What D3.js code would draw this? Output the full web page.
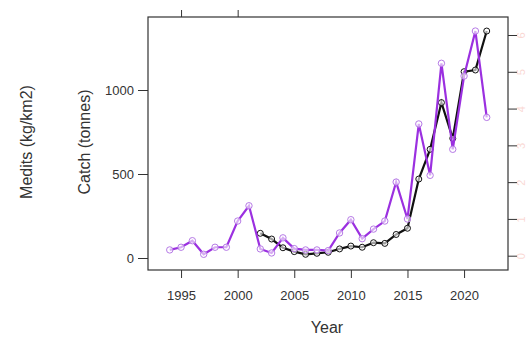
<!DOCTYPE html>
<html><head><meta charset="utf-8">
<script src="https://cdn.jsdelivr.net/npm/d3@7"></script>
<style>html,body{margin:0;padding:0;background:#fff;overflow:hidden}</style>
</head><body><svg id="c" width="527" height="340"></svg>
<script>
const medYears = [1994,1995,1996,1997,1998,1999,2000,2001,2002,2003,2004,2005,2006,2007,2008,2009,2010,2011,2012,2013,2014,2015,2016,2017,2018,2019,2020,2021,2022];
const meditsValues = [48,64,103,22,64,64,220,311,54,30,120,56,48,48,44,149,228,115,172,220,452,232,798,492,1159,647,1083,1351,837];
const catchYears = [2002,2003,2004,2005,2006,2007,2008,2009,2010,2011,2012,2013,2014,2015,2016,2017,2018,2019,2020,2021,2022];
const catchValues = [147,113,61,38,22,28,34,54,71,64,91,87,140,177,470,647,925,712,1109,1119,1351];
const xTicks = [1995,2000,2005,2010,2015,2020];
const yTicks = [0,500,1000];
const rightTicks = [0,1,2,3,4,5,6];
const topTicks = [1995,2000];

const svg = d3.select("#c");
const L=148, R=508, T=17, B=270;
const x = d3.scaleLinear().domain([1992.08, 2023.88]).range([L, R]);
const y = d3.scaleLinear().domain([0, 1000]).range([258, 90]);
const yr = d3.scaleLinear().domain([0, 6]).range([255.7, 35]);
const font = "'Liberation Sans', Arial, sans-serif";

// left axis
const gl = svg.append("g").attr("transform",`translate(${L},0)`)
  .call(d3.axisLeft(y).tickValues(yTicks).tickSize(10).tickPadding(4).tickFormat(d3.format("d")));
gl.select(".domain").remove();
gl.selectAll("line").attr("stroke","#333");
gl.selectAll("text").attr("font-family",font).attr("font-size",13).attr("fill","#333")
  .attr("dy","0.35em");

// bottom axis
const gb = svg.append("g").attr("transform",`translate(0,${B})`)
  .call(d3.axisBottom(x).tickValues(xTicks).tickSize(8).tickPadding(13).tickFormat(d3.format("d")));
gb.select(".domain").remove();
gb.selectAll("line").attr("stroke","#333");
gb.selectAll("text").attr("font-family",font).attr("font-size",13).attr("fill","#333");

// top ticks
const gt = svg.append("g").attr("transform",`translate(0,${T})`)
  .call(d3.axisTop(x).tickValues(topTicks).tickSize(7).tickFormat(""));
gt.select(".domain").remove();
gt.selectAll("line").attr("stroke","#333");

// right axis (labels faint, rotated like R side-4 labels)
const gr = svg.append("g").attr("transform",`translate(${R},0)`)
  .call(d3.axisRight(yr).tickValues(rightTicks).tickSize(9).tickFormat(d3.format("d")));
gr.select(".domain").remove();
gr.selectAll("line").attr("stroke","#333");
gr.selectAll("text").attr("font-family",font).attr("font-size",11).attr("fill","#f08070")
  .attr("opacity",0.3).attr("x",0).attr("dy",0).attr("text-anchor","middle")
  .attr("transform","translate(17,0) rotate(-90)");

// frame
svg.append("rect").attr("x",L).attr("y",T).attr("width",R-L).attr("height",B-T)
  .attr("fill","none").attr("stroke","#333").attr("stroke-width",1.2);

// axis titles
svg.append("text").attr("transform","translate(32,142) rotate(-90)").attr("text-anchor","middle")
  .attr("font-family",font).attr("font-size",16).attr("fill","#333").text("Medits (kg/km2)");
svg.append("text").attr("transform","translate(90,142) rotate(-90)").attr("text-anchor","middle")
  .attr("font-family",font).attr("font-size",16).attr("fill","#333").text("Catch (tonnes)");
svg.append("text").attr("x",327).attr("y",333).attr("text-anchor","middle")
  .attr("font-family",font).attr("font-size",16).attr("fill","#333").text("Year");

const line = d3.line().x(d=>x(d[0])).y(d=>y(d[1]));
const med = medYears.map((d,i)=>[d,meditsValues[i]]);
const cat = catchYears.map((d,i)=>[d,catchValues[i]]);

svg.append("path").datum(cat).attr("d",line).attr("fill","none").attr("stroke","#111").attr("stroke-width",2.2);
svg.selectAll(".cp").data(cat).enter().append("circle").attr("cx",d=>x(d[0])).attr("cy",d=>y(d[1]))
  .attr("r",3).attr("fill","#fff").attr("fill-opacity",0.6).attr("stroke","#111").attr("stroke-width",1);

svg.append("path").datum(med).attr("d",line).attr("fill","none").attr("stroke","#9b30e0").attr("stroke-width",2.2);
svg.selectAll(".mp").data(med).enter().append("circle").attr("cx",d=>x(d[0])).attr("cy",d=>y(d[1]))
  .attr("r",3.2).attr("fill","#fff").attr("fill-opacity",0.6).attr("stroke","#b67ae6").attr("stroke-width",1);
</script></body></html>
